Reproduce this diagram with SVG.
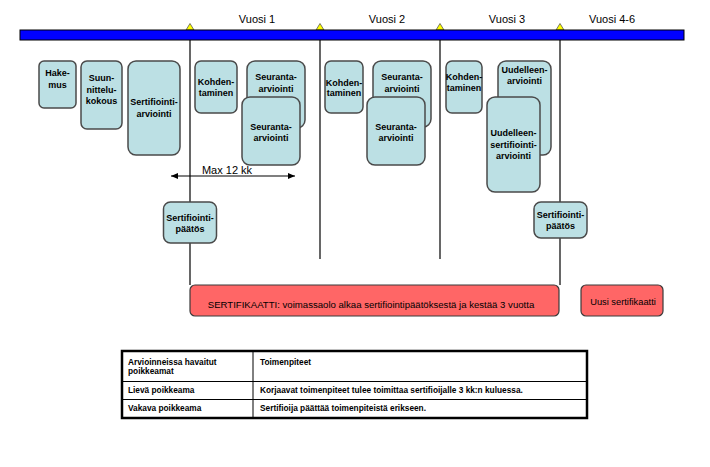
<svg xmlns="http://www.w3.org/2000/svg" width="710" height="467" viewBox="0 0 710 467">
<defs>
<style>
.box{fill:#BCE0E4;stroke:#4a4a4a;stroke-width:1.5}
.red{fill:#FF6666;stroke:#3a3a3a;stroke-width:1.2}
.bt{font-family:"Liberation Sans",Arial,sans-serif;font-weight:bold;font-size:9px;fill:#000;text-anchor:middle}
.yr{font-family:"Liberation Sans",Arial,sans-serif;font-size:11px;fill:#000;text-anchor:middle}
.vl{stroke:#000;stroke-width:1.2;fill:none}
.tri{fill:#FFFF00;stroke:#555;stroke-width:0.8}
.tt{font-family:"Liberation Sans",Arial,sans-serif;font-weight:bold;font-size:8.3px;fill:#000}
</style>
<marker id="ah" markerWidth="8" markerHeight="8" refX="7" refY="4" orient="auto-start-reverse" markerUnits="userSpaceOnUse">
<path d="M0,1 L7,4 L0,7 z" fill="#000"/>
</marker>
</defs>
<rect width="710" height="467" fill="#fff"/>

<g id="timeline">
<polygon class="tri" points="186,30 190,23.5 194,30"/>
<polygon class="tri" points="316,30 320,23.5 324,30"/>
<polygon class="tri" points="436,30 440,23.5 444,30"/>
<polygon class="tri" points="556,30 560,23.5 564,30"/>
<rect x="20" y="30" width="664" height="10" fill="#0000FF" stroke="#000" stroke-width="1"/>
<text class="yr" x="257" y="23">Vuosi 1</text>
<text class="yr" x="387" y="23">Vuosi 2</text>
<text class="yr" x="507" y="23">Vuosi 3</text>
<text class="yr" x="612" y="23">Vuosi 4-6</text>
</g>

<g id="connectors">
<line class="vl" x1="190" y1="40" x2="190" y2="285"/>
<line class="vl" x1="320" y1="40" x2="320" y2="259"/>
<line class="vl" x1="440" y1="40" x2="440" y2="259"/>
<line class="vl" x1="560" y1="40" x2="560" y2="285"/>
<line x1="171" y1="176" x2="295" y2="176" stroke="#000" stroke-width="1.2" marker-start="url(#ah)" marker-end="url(#ah)"/>
<text class="yr" x="227" y="174">Max 12 kk</text>
</g>

<g id="hakemus">
<rect class="box" x="39" y="61" width="37" height="47" rx="5"/>
<text class="bt" x="57.5" y="76">Hake-</text>
<text class="bt" x="57.5" y="88">mus</text>
</g>
<g id="suunnittelukokous">
<rect class="box" x="81" y="61" width="41" height="68" rx="6"/>
<text class="bt" x="101.5" y="81">Suun-</text>
<text class="bt" x="101.5" y="93">nittelu-</text>
<text class="bt" x="101.5" y="104">kokous</text>
</g>
<g id="sertifiointiarviointi">
<rect class="box" x="128" y="61" width="52" height="94" rx="8"/>
<text class="bt" x="154" y="105">Sertifiointi-</text>
<text class="bt" x="154" y="117">arviointi</text>
</g>

<g id="kohdentaminen1">
<rect class="box" x="195" y="61" width="42" height="52" rx="6"/>
<text class="bt" x="216" y="85">Kohden-</text>
<text class="bt" x="216" y="96">taminen</text>
</g>
<g id="seuranta1a">
<rect class="box" x="247" y="61" width="58" height="67" rx="8"/>
<text class="bt" x="276" y="80">Seuranta-</text>
<text class="bt" x="276" y="92">arviointi</text>
</g>
<g id="seuranta1b">
<rect class="box" x="242" y="97" width="58" height="68" rx="8"/>
<text class="bt" x="271" y="130">Seuranta-</text>
<text class="bt" x="271" y="141">arviointi</text>
</g>

<g id="kohdentaminen2">
<rect class="box" x="325" y="61" width="38" height="52" rx="6"/>
<text class="bt" x="344" y="86">Kohden-</text>
<text class="bt" x="344" y="96">taminen</text>
</g>
<g id="seuranta2a">
<rect class="box" x="373" y="61" width="58" height="66" rx="8"/>
<text class="bt" x="402" y="80">Seuranta-</text>
<text class="bt" x="402" y="92">arviointi</text>
</g>
<g id="seuranta2b">
<rect class="box" x="367" y="97" width="58" height="68" rx="8"/>
<text class="bt" x="396" y="130">Seuranta-</text>
<text class="bt" x="396" y="141">arviointi</text>
</g>

<g id="kohdentaminen3">
<rect class="box" x="446" y="61" width="36" height="52" rx="6"/>
<text class="bt" x="464" y="80">Kohden-</text>
<text class="bt" x="464" y="91">taminen</text>
</g>
<g id="uudelleenarviointi">
<rect class="box" x="498" y="61" width="53" height="94" rx="8"/>
<text class="bt" x="524.5" y="73">Uudelleen-</text>
<text class="bt" x="524.5" y="84">arviointi</text>
</g>
<g id="uudelleensertifiointiarviointi">
<rect class="box" x="487" y="97" width="53" height="95" rx="8"/>
<text class="bt" x="513.5" y="136">Uudelleen-</text>
<text class="bt" x="513.5" y="148">sertifiointi-</text>
<text class="bt" x="513.5" y="159">arviointi</text>
</g>

<g id="paatos1">
<rect class="box" x="163.5" y="202" width="53" height="41" rx="7"/>
<text class="bt" x="190" y="221">Sertifiointi-</text>
<text class="bt" x="190" y="232">päätös</text>
</g>
<g id="paatos2">
<rect class="box" x="534" y="202" width="53" height="36" rx="7"/>
<text class="bt" x="560.5" y="218">Sertifiointi-</text>
<text class="bt" x="560.5" y="229">päätös</text>
</g>

<g id="sertifikaatti">
<rect class="red" x="190" y="285" width="369" height="31" rx="5"/>
<text x="371" y="307.5" font-family="'Liberation Sans',Arial,sans-serif" font-size="9.6px" text-anchor="middle" fill="#000">SERTIFIKAATTI: voimassaolo alkaa sertifiointipäätöksestä ja kestää 3 vuotta</text>
</g>
<g id="uusi">
<rect class="red" x="581" y="285" width="82" height="31" rx="5"/>
<text x="623" y="305" font-family="'Liberation Sans',Arial,sans-serif" font-size="9.3px" text-anchor="middle" fill="#000">Uusi sertifikaatti</text>
</g>

<g id="table">
<rect x="122" y="351" width="465" height="67" fill="#fff" stroke="#000" stroke-width="2.5"/>
<line x1="253" y1="351" x2="253" y2="418" stroke="#000" stroke-width="1"/>
<line x1="122" y1="381.5" x2="587" y2="381.5" stroke="#000" stroke-width="1"/>
<line x1="122" y1="399.5" x2="587" y2="399.5" stroke="#000" stroke-width="1"/>
<text class="tt" x="128" y="365">Arvioinneissa havaitut</text>
<text class="tt" x="128" y="374">poikkeamat</text>
<text class="tt" x="260" y="365">Toimenpiteet</text>
<text class="tt" x="128" y="393">Lievä poikkeama</text>
<text class="tt" x="260" y="393">Korjaavat toimenpiteet tulee toimittaa sertifioijalle 3 kk:n kuluessa.</text>
<text class="tt" x="128" y="411">Vakava poikkeama</text>
<text class="tt" x="260" y="411">Sertifioija päättää toimenpiteistä erikseen.</text>
</g>
</svg>
